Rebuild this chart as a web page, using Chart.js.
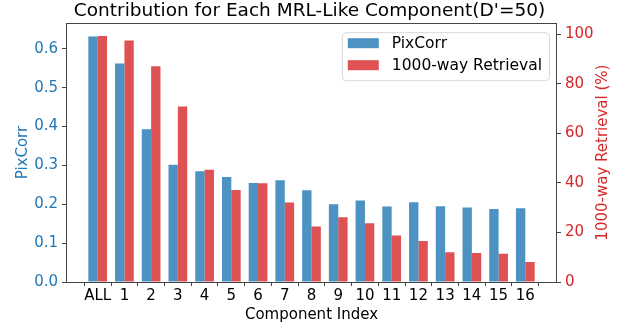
<!DOCTYPE html>
<html>
<head>
<meta charset="utf-8">
<script src="https://cdn.jsdelivr.net/npm/chart.js@4"></script>
<style>
  html, body { margin: 0; padding: 0; background: #fff; }
  #wrap { width: 619px; height: 324px; }
</style>
</head>
<body>
<div id="wrap"><canvas id="mrlChart" width="619" height="324"></canvas></div>
<script>
const components = ['ALL', '1', '2', '3', '4', '5', '6', '7', '8', '9', '10', '11', '12', '13', '14', '15', '16'];
const pixCorr = [0.632, 0.562, 0.393, 0.302, 0.285, 0.270, 0.255, 0.262, 0.236, 0.200, 0.210, 0.194, 0.205, 0.195, 0.192, 0.188, 0.190];
const retrieval = [99.2, 97.4, 87.0, 70.8, 45.3, 37.1, 39.8, 32.1, 22.4, 26.1, 23.7, 18.8, 16.5, 12.0, 11.7, 11.4, 8.1];

const FONT = 'DejaVu Sans';
const BLUE = '#1f77b4';
const RED = '#d62728';

// frame, right axis title (bottom-to-top) and legend box, matplotlib style
const framePlugin = {
  id: 'frame',
  afterDraw(chart) {
    const {ctx, chartArea: a} = chart;
    ctx.save();
    ctx.strokeStyle = '#444';
    ctx.lineWidth = 1;
    ctx.strokeRect(Math.round(a.left) + 0.5, Math.round(a.top) + 0.5,
      Math.round(a.right - a.left) - 1, Math.round(a.bottom - a.top));

    // right axis title
    ctx.save();
    ctx.translate(603, (a.top + a.bottom) / 2);
    ctx.rotate(-Math.PI / 2);
    ctx.font = '15px ' + FONT;
    ctx.fillStyle = RED;
    ctx.textAlign = 'center';
    ctx.textBaseline = 'middle';
    ctx.fillText('1000-way Retrieval (%)', 0, 0);
    ctx.restore();

    ctx.font = '15.5px ' + FONT;
    const sets = chart.data.datasets;
    const textW = Math.max(...sets.map(d => ctx.measureText(d.label).width));
    const w = 50 + textW + 7;
    const h = 48;
    const x = a.right - 8 - w, y = a.top + 9;
    ctx.beginPath();
    ctx.roundRect(x + 0.5, y + 0.5, w, h, 4);
    ctx.fillStyle = 'rgba(255,255,255,0.8)';
    ctx.fill();
    ctx.strokeStyle = '#d8d8d8';
    ctx.stroke();
    sets.forEach((d, i) => {
      const ry = y + 6 + i * 22;
      ctx.fillStyle = d.backgroundColor;
      ctx.fillRect(x + 6, ry, 31, 10);
      ctx.fillStyle = '#000';
      ctx.textBaseline = 'middle';
      ctx.fillText(d.label, x + 50, ry + 5.5);
    });
    ctx.restore();
  }
};

new Chart(document.getElementById('mrlChart'), {
  type: 'bar',
  data: {
    datasets: [{
      label: 'PixCorr',
      data: pixCorr.map((v, i) => ({x: i, y: v})),
      backgroundColor: 'rgba(31,119,180,0.8)',
      yAxisID: 'y'
    }, {
      label: '1000-way Retrieval',
      data: retrieval.map((v, i) => ({x: i, y: v})),
      backgroundColor: 'rgba(214,39,40,0.8)',
      yAxisID: 'y1'
    }]
  },
  options: {
    responsive: false,
    animation: false,
    devicePixelRatio: 1,
    categoryPercentage: 0.7,
    barPercentage: 1.0,
    layout: {padding: 0},
    plugins: {
      legend: {display: false},
      tooltip: {enabled: false},
      title: {
        display: true,
        text: "Contribution for Each MRL-Like Component(D'=50)",
        color: '#000',
        font: {family: FONT, size: 18.5, weight: 'normal', lineHeight: 1.2},
        padding: {top: 0, bottom: 1}
      }
    },
    scales: {
      x: {
        type: 'linear',
        offset: false,
        min: -1.185,
        max: 17.185,
        afterBuildTicks: axis => { axis.ticks = components.map((c, i) => ({value: i})); },
        afterFit: axis => { axis.height = 42; },
        ticks: {
          color: '#000',
          font: {family: FONT, size: 15},
          padding: 1,
          maxRotation: 0,
          autoSkip: false,
          callback: v => components[v]
        },
        grid: {drawOnChartArea: false, drawTicks: true, tickLength: 4, color: '#444'},
        border: {display: false},
        title: {display: true, text: 'Component Index', color: '#000', font: {family: FONT, size: 15}, padding: 0}
      },
      y: {
        position: 'left',
        min: 0,
        max: 0.666,
        afterFit: axis => { axis.width = 66; },
        ticks: {
          stepSize: 0.1,
          includeBounds: false,
          color: BLUE,
          font: {family: FONT, size: 15},
          padding: 4,
          callback: v => v.toFixed(1)
        },
        grid: {drawOnChartArea: false, drawTicks: true, tickLength: 4, color: '#444'},
        border: {display: false},
        title: {display: true, text: 'PixCorr', color: BLUE, font: {family: FONT, size: 15}, padding: {top: 14, bottom: 2}}
      },
      y1: {
        position: 'right',
        min: 0,
        max: 104.4,
        afterFit: axis => { axis.width = 62; },
        ticks: {
          stepSize: 20,
          includeBounds: false,
          color: RED,
          font: {family: FONT, size: 15},
          padding: 4
        },
        grid: {drawOnChartArea: false, drawTicks: true, tickLength: 4, color: '#444'},
        border: {display: false},
        title: {display: false}
      }
    }
  },
  plugins: [framePlugin]
});
</script>
</body>
</html>
